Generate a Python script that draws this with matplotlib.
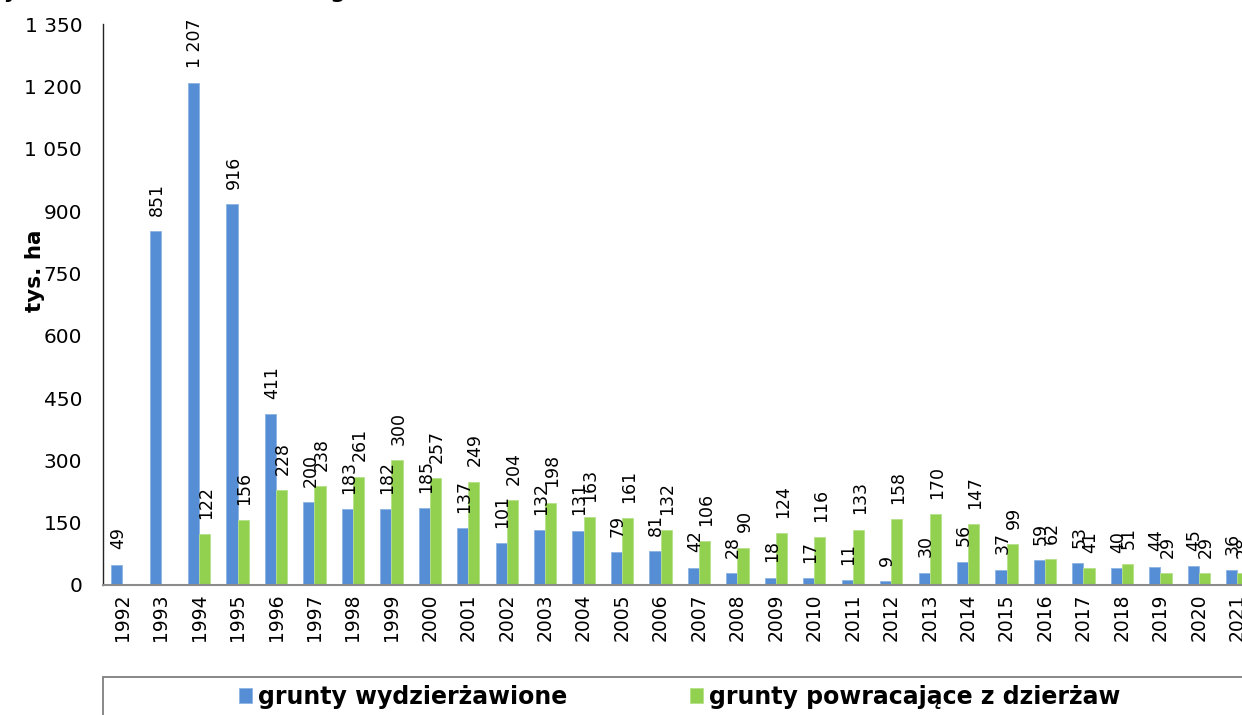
import numpy as np
import matplotlib
matplotlib.use("Agg")
import matplotlib.pyplot as plt
from matplotlib.patches import Rectangle

years = [str(y) for y in range(1992, 2022)]
wydzierzawione = [49, 851, 1207, 916, 411, 200, 183, 182, 185, 137, 101, 132, 131, 79, 81,
                  42, 28, 18, 17, 11, 9, 30, 56, 37, 59, 53, 40, 44, 45, 36]
powracajace = [np.nan, np.nan, 122, 156, 228, 238, 261, 300, 257, 249, 204, 198, 163, 161, 132,
               106, 90, 124, 116, 133, 158, 170, 147, 99, 62, 41, 51, 29, 29, 28]
yticks = [0, 150, 300, 450, 600, 750, 900, 1050, 1200, 1350]

blue = "#558ed5"
green = "#92d050"

def fmt(v):
    return f"{int(v):,}".replace(",", " ")

plt.rcParams['font.family'] = ['DejaVu Sans']

fig = plt.figure(figsize=(12.42, 7.15), dpi=100)
W, H = 1242, 715
ax = fig.add_axes([103 / W, 1 - 585 / H, 30 * 38.45 / W, (585 - 24) / H])

x = np.arange(len(years))
bw = 0.29
b1 = ax.bar(x - bw / 2, wydzierzawione, bw, color=blue, edgecolor="#8db3e2", linewidth=0.6,
            label="grunty wydzierżawione")
b2 = ax.bar(x + bw / 2, powracajace, bw, color=green, edgecolor="#b5e08a", linewidth=0.6,
            label="grunty powracające z dzierżaw")

# data labels, rotated
for xs, vals in ((x - bw / 2, wydzierzawione), (x + bw / 2, powracajace)):
    for xi, v in zip(xs, vals):
        if np.isnan(v):
            continue
        ax.annotate(fmt(v), (xi, v), xytext=(1, 11), textcoords="offset points",
                    rotation=90, ha="center", va="bottom", fontsize=12.5)

ax.set_xlim(-0.5, len(years) - 0.5)
ax.set_ylim(0, 1350)
ax.set_yticks(yticks)
ax.set_yticklabels([fmt(t) for t in yticks], fontsize=14.5)
ax.set_xticks(x)
ax.set_xticklabels(years, rotation=90, fontsize=13.5)
ax.tick_params(axis="x", length=0, pad=6)
ax.tick_params(axis="y", length=0, pad=15)

for s in ("top", "right"):
    ax.spines[s].set_visible(False)
ax.spines["left"].set_color("#222222")
ax.spines["left"].set_linewidth(1.0)
ax.spines["bottom"].set_color("#8c8c8c")
ax.spines["bottom"].set_linewidth(1.5)

ax.set_ylabel("tys. ha", fontsize=15.5, fontweight="bold")
ax.yaxis.set_label_coords(-58 / (30 * 38.45), 0.56)

# title, mostly above the visible area
fig.text(-20 / W, 1 + 2 / H, "Wykres 3. Dzierżawa i zwrot gruntów", fontsize=15.5,
         fontweight="bold", ha="left", va="baseline")

# legend box
fig.patches.append(Rectangle((103 / W, -0.2), 1.0, 0.2 + (715 - 677) / H,
                             transform=fig.transFigure, fill=False,
                             edgecolor="#7f7f7f", linewidth=1.3))
fig.legend([b1, b2], ["grunty wydzierżawione", "grunty powracające z dzierżaw"],
           loc="center", bbox_to_anchor=(680 / W, 1 - 697 / H), ncol=2, frameon=False,
           prop={"size": 17, "weight": "bold"}, handlelength=0.55, handleheight=0.6,
           handletextpad=0.25, columnspacing=5.2)

fig.savefig("out.png", dpi=100)
